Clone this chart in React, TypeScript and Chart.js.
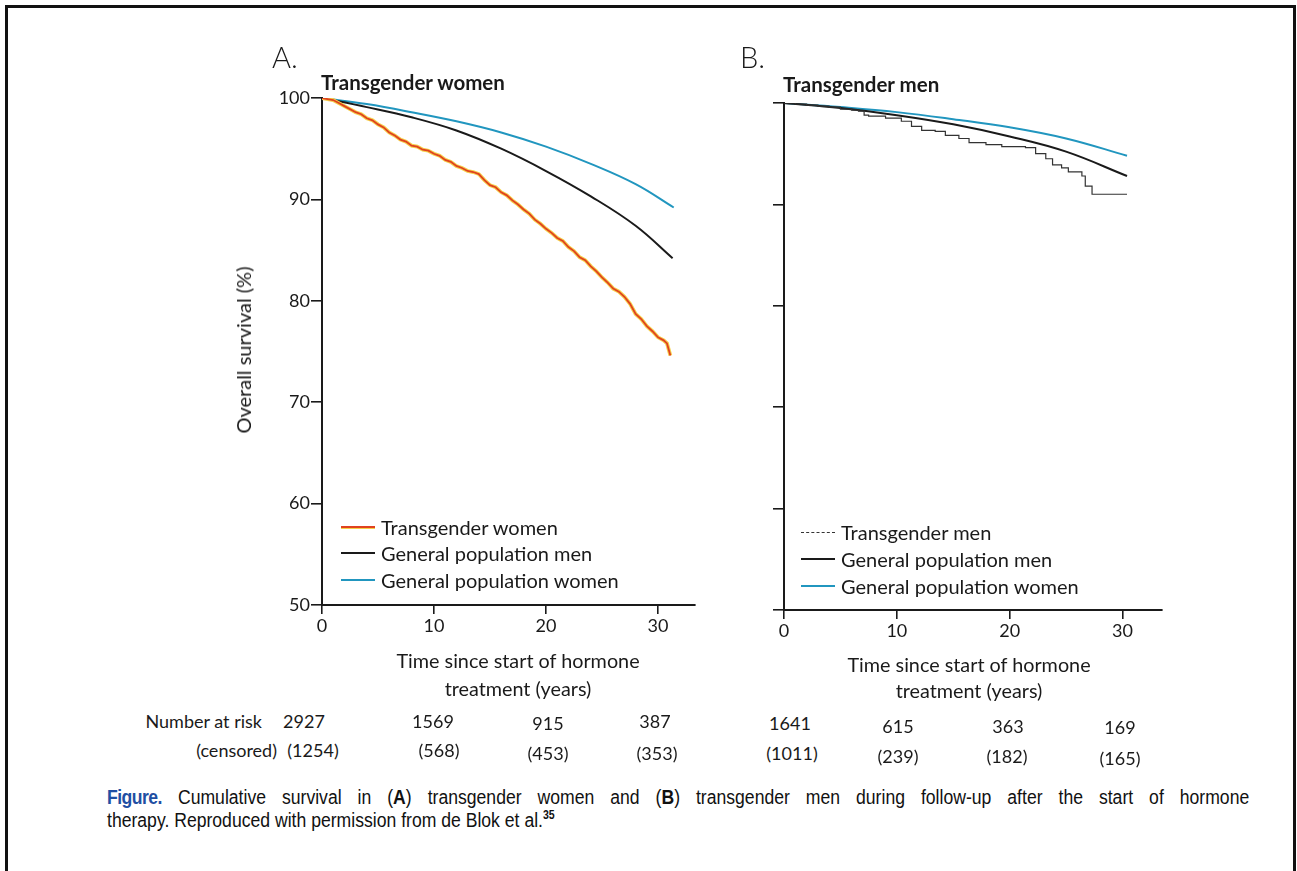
import React, { useEffect, useRef } from 'react';
import { Chart, registerables } from 'chart.js';

Chart.register(...registerables);

// ---------------- Data ----------------
const xTickStep = 10;
const yTickStep = 10;
const yMin = 50;
const yMax = 100;

// Panel A – transgender women (Kaplan–Meier)
const twTimes = [0, 0.5, 1, 1.5, 2, 2.5, 3, 3.5, 4, 4.5, 5, 5.5, 6, 6.5, 7, 7.5, 8, 8.5, 9, 9.5, 10, 10.5, 11, 11.5, 12, 12.5, 13, 13.5, 14, 14.5, 15, 15.5, 16, 16.5, 17, 17.5, 18, 18.5, 19, 19.5, 20, 20.5, 21, 21.5, 22, 22.5, 23, 23.5, 24, 24.5, 25, 25.5, 26, 26.5, 27, 27.5, 28, 28.5, 29, 29.5, 30, 30.5, 30.8, 31.1];
const twSurvival = [100, 99.9, 99.8, 99.5, 99.2, 98.9, 98.6, 98.4, 98.0, 97.8, 97.4, 97.1, 96.6, 96.3, 95.9, 95.7, 95.3, 95.2, 94.9, 94.8, 94.5, 94.3, 93.9, 93.7, 93.3, 93.1, 92.8, 92.7, 92.5, 91.9, 91.4, 91.2, 90.7, 90.4, 89.9, 89.5, 89.0, 88.6, 88.0, 87.6, 87.1, 86.7, 86.2, 85.9, 85.3, 84.9, 84.3, 84.0, 83.4, 82.9, 82.3, 81.8, 81.2, 80.9, 80.4, 79.7, 78.7, 78.2, 77.5, 77.0, 76.4, 76.1, 75.8, 74.6];
const gpMenATimes = [0, 4, 8, 12, 16, 20, 24, 28, 31.3];
const gpMenASurvival = [100, 99.1, 98.1, 96.8, 95.0, 92.8, 90.3, 87.4, 84.2];
const gpWomenATimes = [0, 4, 8, 12, 16, 20, 24, 28, 31.4];
const gpWomenASurvival = [100, 99.4, 98.6, 97.7, 96.6, 95.2, 93.5, 91.5, 89.2];

// Panel B – transgender men
const tmTimes = [0, 1, 2, 3, 4, 5, 6, 6.6, 7.1, 7.5, 9.0, 10.4, 11.3, 12.2, 13.4, 14.3, 15.5, 16.4, 17.9, 19.3, 21.4, 22.3, 23.2, 23.8, 24.6, 25.2, 26.4, 26.7, 27.3, 30.4];
const tmSurvival = [100, 99.9, 99.8, 99.7, 99.6, 99.4, 99.3, 99.2, 98.8, 98.7, 98.5, 98.2, 97.7, 97.3, 97.2, 96.8, 96.5, 96.1, 95.9, 95.7, 95.6, 95.0, 94.5, 93.9, 93.6, 93.2, 92.8, 91.8, 91.0, 91.0];
const gpMenBTimes = [0, 5, 10, 15, 20, 25, 30.4];
const gpMenBSurvival = [100, 99.5, 98.8, 97.9, 96.7, 95.2, 92.8];
const gpWomenBTimes = [0, 5, 10, 15, 20, 25, 30.4];
const gpWomenBSurvival = [100, 99.6, 99.1, 98.4, 97.6, 96.5, 94.8];

// Number at risk tables
const riskA = [2927, 1569, 915, 387];
const censoredA = [1254, 568, 453, 353];
const riskB = [1641, 615, 363, 169];
const censoredB = [1011, 239, 182, 165];

const legendA = ['Transgender women', 'General population men', 'General population women'];
const legendB = ['Transgender men', 'General population men', 'General population women'];

// ---------------- Styles / layout ----------------
const FONT = 'Lato, "Open Sans", sans-serif';
const CAPTION_FONT = '"Liberation Sans", Arial, sans-serif';
const INK = '#1a1a1a';
const BLUE = '#2196bf';
const ORANGE = '#e0421f';
const YELLOW = '#f5cf4a';

const riskLayoutA = { x1: [304, 433, 548, 655], y1: [722, 722, 724, 722], x2: [313, 439, 548, 657], y2: [751, 751, 754, 754] };
const riskLayoutB = { x1: [790, 898, 1008, 1120], y1: [724, 727, 727, 728], x2: [792, 898, 1007, 1120], y2: [754, 757, 757, 759] };

const pts = (xs: number[], ys: number[]) => xs.map((x, i) => ({ x, y: ys[i] }));

type Box = { x: number; y: number; w: number; h: number };
type Area = { left: number; top: number; right: number; bottom: number };

function Panel({ box, area, xMax, showYLabels, datasets }: { box: Box; area: Area; xMax: number; showYLabels: boolean; datasets: any[] }) {
  const ref = useRef<HTMLCanvasElement>(null);
  useEffect(() => {
    const yWidth = area.left - box.x;
    const xHeight = box.y + box.h - area.bottom;
    const chart = new Chart(ref.current as HTMLCanvasElement, {
      type: 'line',
      data: { datasets },
      options: {
        responsive: false,
        animation: false,
        events: [],
        layout: { padding: { left: 0, top: area.top - box.y, right: box.x + box.w - area.right, bottom: 0 } },
        plugins: { legend: { display: false }, tooltip: { enabled: false }, title: { display: false } },
        elements: { point: { radius: 0 } },
        scales: {
          x: {
            type: 'linear',
            min: 0,
            max: xMax,
            afterFit: (s: any) => { s.height = xHeight; },
            ticks: { stepSize: xTickStep, includeBounds: false, maxRotation: 0, padding: 1, color: INK, font: { family: FONT, size: 18 } },
            grid: { drawOnChartArea: false, drawTicks: true, tickLength: 9, color: INK, lineWidth: 1.6 },
            border: { display: true, color: INK, width: 2 },
          },
          y: {
            type: 'linear',
            min: yMin,
            max: yMax,
            afterFit: (s: any) => { s.width = yWidth; },
            ticks: {
              stepSize: yTickStep,
              padding: 1,
              color: INK,
              font: { family: FONT, size: 18 },
              callback: (v: any) => (showYLabels ? String(v) : ''),
            },
            grid: { drawOnChartArea: false, drawTicks: true, tickLength: 11, color: INK, lineWidth: 1.6 },
            border: { display: true, color: INK, width: 2 },
          },
        },
      },
    });
    return () => chart.destroy();
  }, []);
  return (
    <canvas
      ref={ref}
      width={box.w}
      height={box.h}
      style={{ position: 'absolute', left: box.x, top: box.y, width: box.w, height: box.h, display: 'block' }}
    />
  );
}

function Txt({ x, y, children, size = 18, weight = 400, align = 'left', family = FONT, color = INK, style = {} }: any) {
  const tx = align === 'center' ? '-50%' : align === 'right' ? '-100%' : '0';
  return (
    <div
      style={{
        position: 'absolute',
        left: x,
        top: y,
        transform: `translate(${tx}, -50%)`,
        fontFamily: family,
        fontSize: size,
        fontWeight: weight,
        color,
        whiteSpace: 'nowrap',
        lineHeight: 1.2,
        ...style,
      }}
    >
      {children}
    </div>
  );
}

function LegendRow({ x, y, label, color, width = 2, dashed = false, glow = false }: any) {
  return (
    <div style={{ position: 'absolute', left: x, top: y, transform: 'translateY(-50%)', display: 'flex', alignItems: 'center' }}>
      <div
        style={{
          width: 34,
          height: 0,
          borderTop: `${width}px ${dashed ? 'dashed' : 'solid'} ${color}`,
          boxShadow: glow ? `0 1px 0 ${YELLOW}` : 'none',
          marginRight: 6,
        }}
      />
      <span style={{ fontFamily: FONT, fontSize: 20, color: INK, whiteSpace: 'nowrap', lineHeight: 1.2 }}>{label}</span>
    </div>
  );
}

const CAP_SCALE = 0.88;
function CaptionLine({ y, children, justify = false }: any) {
  return (
    <div
      style={{
        position: 'absolute',
        left: 107,
        top: y,
        width: justify ? Math.round(1142 / CAP_SCALE) : 'auto',
        transform: `translateY(-50%) scaleX(${CAP_SCALE})`,
        transformOrigin: 'left center',
        fontFamily: CAPTION_FONT,
        fontSize: 20,
        color: '#111',
        whiteSpace: justify ? 'normal' : 'nowrap',
        textAlign: justify ? 'justify' : 'left',
        textAlignLast: justify ? 'justify' : 'auto',
        lineHeight: 1.2,
      }}
    >
      {children}
    </div>
  );
}

export default function App() {
  const dsA = [
    { data: pts(twTimes, twSurvival), borderColor: ORANGE, borderWidth: 1.8, tension: 0 },
    { data: pts(twTimes, twSurvival), borderColor: YELLOW, borderWidth: 3.8, tension: 0 },
    { data: pts(gpMenATimes, gpMenASurvival), borderColor: INK, borderWidth: 2, tension: 0.4 },
    { data: pts(gpWomenATimes, gpWomenASurvival), borderColor: BLUE, borderWidth: 2, tension: 0.4 },
  ];
  const dsB = [
    { data: pts(tmTimes, tmSurvival), borderColor: '#333', borderWidth: 1.2, stepped: true },
    { data: pts(gpMenBTimes, gpMenBSurvival), borderColor: INK, borderWidth: 2, tension: 0.4 },
    { data: pts(gpWomenBTimes, gpWomenBSurvival), borderColor: BLUE, borderWidth: 2, tension: 0.4 },
  ];

  return (
    <div style={{ position: 'absolute', left: 0, top: 0, width: 1297, height: 871, overflow: 'hidden', background: '#fff' }}>
      {/* outer frame */}
      <div style={{ position: 'absolute', left: 5, top: 5, width: 1291, height: 880, border: '3px solid #111', boxSizing: 'border-box' }} />

      <Panel box={{ x: 200, y: 40, w: 520, h: 620 }} area={{ left: 322, top: 98, right: 695, bottom: 605 }} xMax={33.3} showYLabels={true} datasets={dsA} />
      <Panel box={{ x: 700, y: 40, w: 520, h: 620 }} area={{ left: 784, top: 103, right: 1162, bottom: 610 }} xMax={33.5} showYLabels={false} datasets={dsB} />

      {/* Panel letters and titles */}
      <Txt x={272} y={57} size={29} weight={300}>A.</Txt>
      <Txt x={740} y={57} size={29} weight={300}>B.</Txt>
      <Txt x={321} y={82} size={20.5} weight={700}>Transgender women</Txt>
      <Txt x={783} y={84} size={20.5} weight={700}>Transgender men</Txt>

      {/* y-axis title */}
      <div style={{ position: 'absolute', left: 243, top: 350, transform: 'translate(-50%, -50%) rotate(-90deg)', fontFamily: FONT, fontSize: 20, color: INK, whiteSpace: 'nowrap', lineHeight: 1.2 }}>
        Overall survival (%)
      </div>

      {/* x-axis titles */}
      <Txt x={518} y={661} align="center" size={19.8}>Time since start of hormone</Txt>
      <Txt x={518} y={689} align="center" size={19.8}>treatment (years)</Txt>
      <Txt x={969} y={665} align="center" size={19.8}>Time since start of hormone</Txt>
      <Txt x={969} y={691} align="center" size={19.8}>treatment (years)</Txt>

      {/* legends */}
      <LegendRow x={341} y={527} label={legendA[0]} color={ORANGE} glow />
      <LegendRow x={341} y={553} label={legendA[1]} color={INK} />
      <LegendRow x={341} y={580} label={legendA[2]} color={BLUE} />
      <LegendRow x={801} y={532} label={legendB[0]} color={'#333'} width={1} dashed />
      <LegendRow x={801} y={559} label={legendB[1]} color={INK} />
      <LegendRow x={801} y={586} label={legendB[2]} color={BLUE} />

      {/* number at risk */}
      <Txt x={262} y={722} align="right" size={18}>Number at risk</Txt>
      <Txt x={277} y={751} align="right" size={18}>(censored)</Txt>
      {riskA.map((v, i) => (
        <Txt key={'ra' + i} x={riskLayoutA.x1[i]} y={riskLayoutA.y1[i]} align="center" size={18}>{v}</Txt>
      ))}
      {censoredA.map((v, i) => (
        <Txt key={'ca' + i} x={riskLayoutA.x2[i]} y={riskLayoutA.y2[i]} align="center" size={18}>({v})</Txt>
      ))}
      {riskB.map((v, i) => (
        <Txt key={'rb' + i} x={riskLayoutB.x1[i]} y={riskLayoutB.y1[i]} align="center" size={18}>{v}</Txt>
      ))}
      {censoredB.map((v, i) => (
        <Txt key={'cb' + i} x={riskLayoutB.x2[i]} y={riskLayoutB.y2[i]} align="center" size={18}>({v})</Txt>
      ))}

      {/* caption */}
      <CaptionLine y={797} justify>
        <span style={{ fontWeight: 700, color: '#1f4fa3', letterSpacing: -0.6 }}>Figure.</span>{' '}
        Cumulative survival in (<b>A</b>) transgender women and (<b>B</b>) transgender men during follow-up after the start of hormone
      </CaptionLine>
      <CaptionLine y={820}>
        therapy. Reproduced with permission from de Blok et al.<sup style={{ fontSize: 12, fontWeight: 700 }}>35</sup>
      </CaptionLine>
    </div>
  );
}
